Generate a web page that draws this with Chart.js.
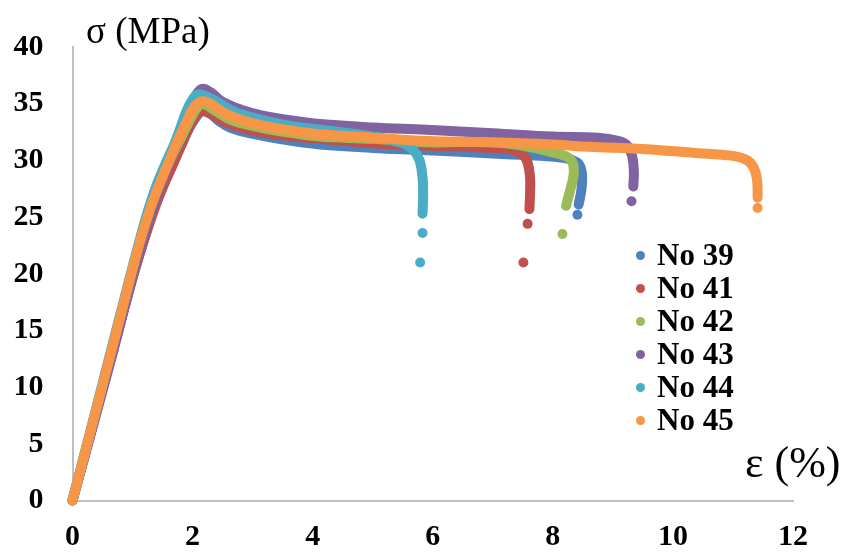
<!DOCTYPE html>
<html>
<head>
<meta charset="utf-8">
<script src="https://cdn.jsdelivr.net/npm/chart.js@4.4.0/dist/chart.umd.min.js"></script>
<style>
    body { margin: 0; background: #fff; }
    #wrap { position: relative; width: 846px; height: 553px; overflow: hidden; }
    .axisTitle { position: absolute; font-family: "Liberation Serif", "Times New Roman", serif; line-height: 1; white-space: nowrap; color: #000; }
    .legendItem { position: absolute; font: bold 31px "Liberation Serif", "Times New Roman", serif; line-height: 33px; white-space: nowrap; color: #000; }
    .legendDot { position: absolute; width: 9px; height: 9px; border-radius: 50%; }
</style>
</head>
<body>
<div id="wrap">
    <canvas id="chart" width="846" height="553"></canvas>
    <div class="axisTitle" id="yTitle" style="left:86px; top:12px; font-size:37px;">σ (MPa)</div>
    <div class="axisTitle" id="xTitle" style="left:745px; top:441px; font-size:44px;">ε (%)</div>
    <div id="legend"></div>
</div>

<script>
// specimen names + colours (office palette)
const specimenNames = ['No 39', 'No 41', 'No 42', 'No 43', 'No 44', 'No 45']
const specimenColors = ['#4f81bd', '#c0504d', '#9bbb59', '#8064a2', '#4bacc6', '#f79646']

// axis ticks
const strainTicks = [0, 2, 4, 6, 8, 10, 12]
const stressTicks = [0, 5, 10, 15, 20, 25, 30, 35, 40]

// No 39
const strain39 = [0, 0.67, 1.02, 1.18, 1.34, 1.5, 1.65, 1.8, 1.95, 2.07, 2.17, 2.27, 2.37, 2.46, 2.62, 2.79, 3.13, 3.67, 4.12, 5.0, 5.9, 7.0, 7.8, 8.2, 8.41, 8.48, 8.48, 8.43]
const stress39 = [0, 13.2, 20.0, 22.8, 25.4, 27.6, 29.4, 31.2, 32.9, 33.9, 34.4, 34.2, 33.8, 33.4, 32.9, 32.6, 32.2, 31.7, 31.4, 31.1, 30.9, 30.6, 30.4, 30.2, 29.8, 29.0, 27.6, 26.1]
const tailStrain39 = [8.41]
const tailStress39 = [25.2]

// No 41
const strain41 = [0, 0.67, 1.02, 1.18, 1.34, 1.5, 1.65, 1.8, 1.95, 2.05, 2.13, 2.22, 2.34, 2.46, 2.62, 2.79, 3.13, 3.67, 4.12, 5.0, 5.9, 7.0, 7.34, 7.5, 7.58, 7.62, 7.62, 7.61]
const stress41 = [0, 13.2, 20.0, 22.8, 25.4, 27.6, 29.4, 31.2, 33.0, 33.9, 34.3, 34.3, 34.0, 33.6, 33.2, 32.9, 32.5, 32.1, 31.9, 31.5, 31.3, 31.1, 30.9, 30.5, 29.8, 28.5, 27.0, 25.7]
const tailStrain41 = [7.58, 7.51]
const tailStress41 = [24.4, 21.0]

// No 42
const strain42 = [0, 0.66, 1.0, 1.15, 1.3, 1.45, 1.6, 1.76, 1.91, 2.02, 2.12, 2.22, 2.34, 2.46, 2.62, 2.79, 3.13, 3.67, 4.12, 5.0, 5.9, 7.0, 7.6, 8.0, 8.2, 8.32, 8.35, 8.32, 8.27, 8.22]
const stress42 = [0, 13.2, 20.2, 23.0, 25.6, 27.8, 29.7, 31.5, 33.1, 34.2, 34.9, 34.9, 34.5, 34.1, 33.6, 33.3, 32.9, 32.4, 32.1, 31.9, 31.6, 31.6, 31.2, 30.7, 30.4, 29.9, 29.0, 28.0, 27.0, 26.0]
const tailStrain42 = [8.16]
const tailStress42 = [23.5]

// No 43
const strain43 = [0, 0.68, 1.02, 1.17, 1.32, 1.47, 1.62, 1.77, 1.88, 1.97, 2.05, 2.16, 2.3, 2.46, 2.62, 2.79, 3.13, 3.67, 4.12, 5.0, 5.9, 7.0, 8.0, 8.75, 9.1, 9.24, 9.32, 9.35, 9.34]
const stress43 = [0, 13.2, 20.2, 23.0, 25.6, 27.8, 29.9, 32.0, 33.6, 34.8, 35.7, 36.3, 36.0, 35.3, 34.85, 34.5, 34.0, 33.5, 33.2, 32.9, 32.7, 32.4, 32.1, 32.0, 31.7, 31.3, 30.4, 29.0, 27.7]
const tailStrain43 = [9.31]
const tailStress43 = [26.4]

// No 44
const strain44 = [0, 0.64, 0.98, 1.12, 1.26, 1.4, 1.54, 1.7, 1.8, 1.88, 1.98, 2.08, 2.2, 2.33, 2.46, 2.62, 2.79, 3.13, 3.67, 4.12, 5.0, 5.5, 5.68, 5.78, 5.83, 5.84, 5.83]
const stress44 = [0, 13.2, 20.2, 23.0, 25.6, 27.8, 29.6, 31.5, 32.9, 34.1, 35.2, 35.8, 35.7, 35.4, 35.0, 34.5, 34.1, 33.6, 33.0, 32.7, 32.1, 31.5, 30.9, 30.0, 28.5, 27.0, 25.3]
const tailStrain44 = [5.83, 5.79]
const tailStress44 = [23.6, 21.0]

// No 45
const strain45 = [0, 0.66, 1.0, 1.15, 1.3, 1.45, 1.6, 1.75, 1.9, 2.0, 2.1, 2.2, 2.33, 2.46, 2.62, 2.79, 3.13, 3.67, 4.12, 5.0, 5.9, 7.0, 8.0, 8.6, 9.5, 10.5, 11.0, 11.24, 11.35, 11.4, 11.41, 11.41]
const stress45 = [0, 13.4, 20.4, 23.3, 25.8, 27.9, 29.8, 31.7, 33.4, 34.5, 35.1, 35.2, 34.9, 34.4, 33.95, 33.6, 33.1, 32.6, 32.3, 32.0, 31.7, 31.6, 31.4, 31.2, 31.0, 30.6, 30.4, 30.0, 29.3, 28.3, 27.5, 26.7]
const tailStrain45 = [11.41]
const tailStress45 = [25.8]


const curveStrains = [strain39, strain41, strain42, strain43, strain44, strain45]
const curveStresses = [stress39, stress41, stress42, stress43, stress44, stress45]
const tailStrains = [tailStrain39, tailStrain41, tailStrain42, tailStrain43, tailStrain44, tailStrain45]
const tailStresses = [tailStress39, tailStress41, tailStress42, tailStress43, tailStress44, tailStress45]

function toPoints(xs, ys) {
    return xs.map((x, i) => ({ x: x, y: ys[i] }))
}

const tickFont = { family: '"Liberation Serif", "Times New Roman", serif', size: 30, weight: 'bold' }

// curves: later specimens drawn on top (chart.js draws lowest order last)
let datasets = []
for (let i = 0; i < specimenNames.length; i++) {
    datasets.push({
        label: specimenNames[i],
        data: toPoints(curveStrains[i], curveStresses[i]),
        order: -i,
        showLine: true,
        borderColor: specimenColors[i],
        backgroundColor: specimenColors[i],
        borderWidth: 10,
        borderCapStyle: 'round',
        borderJoinStyle: 'round',
        tension: 0.4,
        pointRadius: 0,
        clip: false
    })
}
// loose points after break
for (let i = 0; i < specimenNames.length; i++) {
    datasets.push({
        label: specimenNames[i] + ' break',
        data: toPoints(tailStrains[i], tailStresses[i]),
        order: 10,
        showLine: false,
        backgroundColor: specimenColors[i],
        borderWidth: 0,
        pointRadius: 5,
        pointHoverRadius: 5,
        clip: false
    })
}

const chartCanvas = document.getElementById('chart').getContext('2d')

let stressChart = new Chart(chartCanvas, {
    type: 'scatter',
    data: { datasets: datasets },
    options: {
        responsive: false,
        animation: false,
        layout: {
            padding: { top: 38, right: 53, bottom: 0, left: 0 }
        },
        plugins: {
            legend: { display: false },
            tooltip: { enabled: false }
        },
        scales: {
            x: {
                type: 'linear',
                min: strainTicks[0],
                max: strainTicks[strainTicks.length - 1],
                afterBuildTicks: scale => { scale.ticks = strainTicks.map(v => ({ value: v })) },
                ticks: { color: '#000', font: tickFont, padding: 19 },
                grid: { display: false, drawTicks: false },
                border: { color: '#bfbfbf', width: 2 },
                afterFit: scale => { scale.height = 52.5 }
            },
            y: {
                type: 'linear',
                min: stressTicks[0],
                max: stressTicks[stressTicks.length - 1],
                afterBuildTicks: scale => { scale.ticks = stressTicks.map(v => ({ value: v })) },
                ticks: { color: '#000', font: tickFont, padding: 29 },
                grid: { display: false, drawTicks: false },
                border: { color: '#bfbfbf', width: 2 },
                afterFit: scale => { scale.width = 72.5 }
            }
        }
    }
});


// html legend (inside plot, right side)
const legendContainer = document.getElementById('legend')
for (let i = 0; i < specimenNames.length; i++) {
    const rowCenter = 255 + 33 * i

    const dot = document.createElement('div')
    dot.className = 'legendDot'
    dot.style.left = (640 - 4.5) + 'px'
    dot.style.top = (rowCenter - 4.5) + 'px'
    dot.style.backgroundColor = specimenColors[i]
    legendContainer.appendChild(dot)

    const item = document.createElement('div')
    item.className = 'legendItem'
    item.style.left = '657px'
    item.style.top = (rowCenter - 17) + 'px'
    item.textContent = specimenNames[i]
    legendContainer.appendChild(item)
}
</script>
</body>
</html>
